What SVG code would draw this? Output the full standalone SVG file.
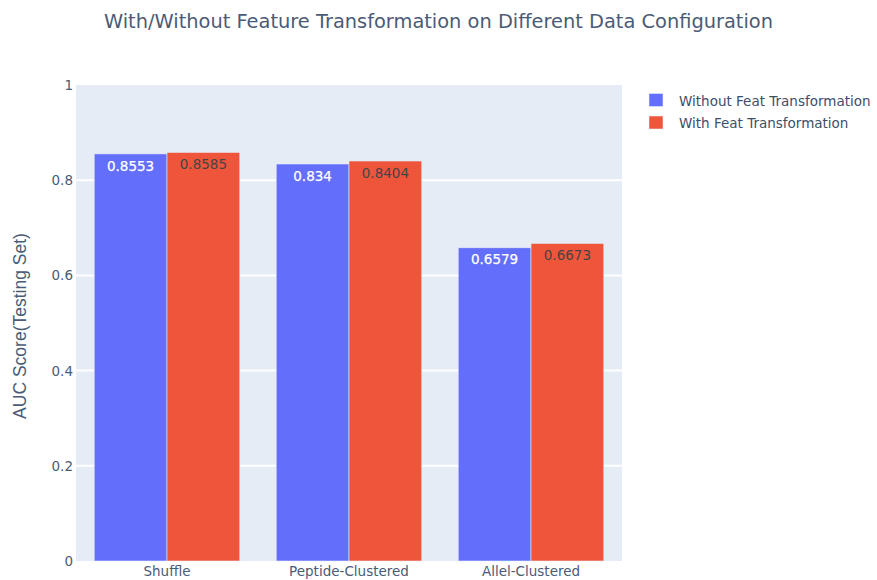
<svg xmlns="http://www.w3.org/2000/svg" width="877" height="580" viewBox="0 0 877 580">
  <style>
    text { font-family: "DejaVu Sans", Verdana, sans-serif; fill: #2a3f5f; }
    .title { font-size: 19.4px; fill: #4b5b75; }
    .tick { font-size: 13.5px; fill: #4b5b75; }
    .ytitle { font-family: "Liberation Sans", Arial, sans-serif; font-size: 17.5px; fill: #4b5b75; }
    .legend { font-size: 13.5px; fill: #3d4e69; }
    .grid { stroke: #ffffff; stroke-width: 2; }
    .b1 { fill: #636efa; stroke: #e5ecf6; stroke-width: 0.6; }
    .b2 { fill: #ef553b; stroke: #e5ecf6; stroke-width: 0.6; }
    .lbl1 { font-size: 13.5px; fill: #ffffff; text-anchor: middle; stroke: #ffffff; stroke-width: 0.25; }
    .lbl2 { font-size: 13.5px; fill: #444444; text-anchor: middle; }
  </style>

  <rect x="0" y="0" width="877" height="580" fill="#ffffff"/>

  <!-- plot area -->
  <rect x="76" y="85" width="546" height="476" fill="#e5ecf6"/>
  <g id="gridlines">
    <line class="grid" x1="76" y1="465.8" x2="622" y2="465.8"/>
    <line class="grid" x1="76" y1="370.6" x2="622" y2="370.6"/>
    <line class="grid" x1="76" y1="275.4" x2="622" y2="275.4"/>
    <line class="grid" x1="76" y1="180.2" x2="622" y2="180.2"/>
  </g>

  <text class="title" x="438.5" y="28" text-anchor="middle">With/Without Feature Transformation on Different Data Configuration</text>

  <!-- y axis -->
  <g id="y-ticks" text-anchor="end">
    <text class="tick" x="73" y="566">0</text>
    <text class="tick" x="73" y="470.8">0.2</text>
    <text class="tick" x="73" y="375.6">0.4</text>
    <text class="tick" x="73" y="280.4">0.6</text>
    <text class="tick" x="73" y="185.2">0.8</text>
    <text class="tick" x="73" y="90">1</text>
  </g>
  <text class="ytitle" transform="translate(26,326) rotate(-90)" text-anchor="middle">AUC Score(Testing Set)</text>

  <!-- x axis -->
  <g id="x-ticks" text-anchor="middle">
    <text class="tick" x="167" y="576">Shuffle</text>
    <text class="tick" x="349" y="576">Peptide-Clustered</text>
    <text class="tick" x="531" y="576">Allel-Clustered</text>
  </g>

  <!-- bars: without feature transformation -->
  <g id="series-without">
    <g id="bar-shuffle-without">
      <rect class="b1" x="94.2" y="153.9" width="72.8" height="407.1"/>
      <text class="lbl1" x="130.6" y="170.5">0.8553</text>
    </g>
    <g id="bar-peptide-without">
      <rect class="b1" x="276.2" y="164" width="72.8" height="397"/>
      <text class="lbl1" x="312.6" y="180.6">0.834</text>
    </g>
    <g id="bar-allel-without">
      <rect class="b1" x="458.2" y="247.8" width="72.8" height="313.2"/>
      <text class="lbl1" x="494.6" y="264.4">0.6579</text>
    </g>
  </g>

  <!-- bars: with feature transformation -->
  <g id="series-with">
    <g id="bar-shuffle-with">
      <rect class="b2" x="167" y="152.4" width="72.8" height="408.6"/>
      <text class="lbl2" x="203.4" y="169">0.8585</text>
    </g>
    <g id="bar-peptide-with">
      <rect class="b2" x="349" y="161" width="72.8" height="400"/>
      <text class="lbl2" x="385.4" y="177.6">0.8404</text>
    </g>
    <g id="bar-allel-with">
      <rect class="b2" x="531" y="243.4" width="72.8" height="317.6"/>
      <text class="lbl2" x="567.4" y="260">0.6673</text>
    </g>
  </g>

  <!-- legend -->
  <g id="legend">
    <rect class="b1" x="649" y="93.5" width="14" height="13"/>
    <text class="legend" x="679" y="105.5">Without Feat Transformation</text>
    <rect class="b2" x="649" y="116" width="14" height="13"/>
    <text class="legend" x="679" y="127.5">With Feat Transformation</text>
  </g>
</svg>
